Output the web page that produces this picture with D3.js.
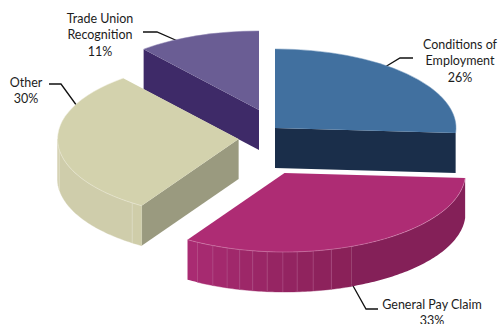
<!DOCTYPE html>
<html>
<head>
<meta charset="utf-8">
<style>
  html, body { margin: 0; padding: 0; background: #fff; }
  svg { display: block; }
  text { font-family: Lato, sans-serif; font-size: 12.5px; fill: #1c1c1c; text-anchor: middle; }
</style>
<script src="https://cdn.jsdelivr.net/npm/d3@7"></script>
</head>
<body>
<script>
// Dispute categories and their share of the total, in percent
const categories = ["Conditions of Employment", "General Pay Claim", "Other", "Trade Union Recognition"];
const shares = [26, 33, 30, 11];

// Wall facet boundaries (degrees clockwise from twelve o'clock)
const payFacets = [158.3, 165, 170.9, 176, 180.5, 185.5, 190.1, 194.3, 198.5, 203.3, 208.8];
const otherFacets = [212.4, 216, 262, 265, 270];

const width = 499, height = 324;
const rx = 181, ry = 79, depth = 40;
const rad = Math.PI / 180;

// Exploded centre of each slice
const centres = [[275, 128], [284.5, 173], [238.6, 139], [259, 110]];
const topColours = ["#41709f", "#ae2c74", "#d3d2ad", "#6a5d94"];
const cutColours = ["#1a2e4a", null, "#9a9a7f", "#3e2a68"];
const rimColours = ["#6f94ba", "#d98cb6", "#eeeddc", "#8b81b0"];

const svg = d3.select("body").append("svg").attr("width", width).attr("height", height);

const slices = d3.pie().sort(null).value(d => d)(shares);
const arcPath = d3.arc().innerRadius(0).outerRadius(rx);
const line = d3.line();

const rimPoint = (c, a, dy = 0) => [c[0] + rx * Math.sin(a), c[1] - ry * Math.cos(a) + dy];

// Sampled points along the rim between two angles
const rimPoints = (c, a0, a1, dy = 0) => {
  const n = Math.max(2, Math.ceil(Math.abs(a1 - a0) / (1 * rad)));
  return d3.range(n + 1).map(i => rimPoint(c, a0 + (a1 - a0) * i / n, dy));
};

const wallPath = (c, a0, a1) =>
  line([...rimPoints(c, a0, a1), ...rimPoints(c, a1, a0, depth)]) + "Z";

// Leader lines sit beneath the slices
const leaders = [
  [[413, 58], [400, 58], [385, 67]],
  [[352, 284], [366, 309], [378, 309]],
  [[49, 84], [61, 84], [77, 106]],
  [[143, 32], [157, 32], [180, 42]]
];
svg.append("g").selectAll("path").data(leaders).join("path")
  .attr("d", d => line(d)).attr("fill", "none").attr("stroke", "#111").attr("stroke-width", 1.3);

// Radial cut face running from the apex out to the rim at the given angle
function cutFace(g, c, a, colour) {
  const rim = rimPoint(c, a);
  g.append("path")
    .attr("d", line([c, rim, [rim[0], rim[1] + depth], [c[0], c[1] + depth]]) + "Z")
    .attr("fill", colour);
}

function drawFacets(g, c, edges, colourAt, lineColour, lineFrom) {
  edges.slice(0, -1).forEach((e, i) => {
    g.append("path").attr("d", wallPath(c, e * rad, edges[i + 1] * rad))
      .attr("fill", colourAt(i)).attr("stroke", colourAt(i)).attr("stroke-width", 0.4);
  });
  edges.forEach((e, i) => {
    if (i < lineFrom[0] || i > lineFrom[1]) return;
    const top = rimPoint(c, e * rad);
    g.append("line").attr("x1", top[0]).attr("y1", top[1])
      .attr("x2", top[0]).attr("y2", top[1] + depth)
      .attr("stroke", lineColour).attr("stroke-width", 0.5);
  });
}

// Back to front: recognition, other, conditions, pay
[3, 2, 0, 1].forEach(i => {
  const s = slices[i], c = centres[i];
  const g = svg.append("g");

  if (i === 3) cutFace(g, c, s.startAngle, cutColours[i]);
  if (i === 0) cutFace(g, c, s.endAngle, cutColours[i]);

  if (i === 1) {
    g.append("path").attr("d", wallPath(c, s.startAngle, payFacets[0] * rad)).attr("fill", "#842058");
    const tint = d3.scaleLinear().domain([0, payFacets.length - 2]).range(["#8a2159", "#a62a70"]);
    drawFacets(g, c, payFacets, tint, "#b25a8f", [1, 9]);
    g.append("path").attr("d", wallPath(c, payFacets[payFacets.length - 1] * rad, s.endAngle)).attr("fill", "#a92b72");
  }

  if (i === 2) {
    cutFace(g, c, s.startAngle, cutColours[i]);
    const tint = d3.scaleOrdinal().domain([0, 1, 2, 3]).range(["#cfcda9", "#cfcdab", "#d3d1af", "#d2d0ae"]);
    drawFacets(g, c, otherFacets, tint, "#e4e3cc", [1, 2]);
  }

  g.append("path")
    .attr("d", arcPath({ startAngle: s.startAngle, endAngle: s.endAngle }))
    .attr("transform", `translate(${c[0]},${c[1]}) scale(1,${ry / rx})`)
    .attr("fill", topColours[i]);

  // Pale highlight along the upper rim
  g.append("path")
    .attr("d", line(rimPoints(c, s.startAngle, s.endAngle)))
    .attr("fill", "none").attr("stroke", rimColours[i]).attr("stroke-width", 0.5);
});

// Labels
const labelLines = [
  ["Conditions of", "Employment", shares[0] + "%"],
  ["General Pay Claim", shares[1] + "%"],
  ["Other", shares[2] + "%"],
  ["Trade Union", "Recognition", shares[3] + "%"]
];
const labelAnchors = [[460, 49], [432, 309], [26, 87], [100, 23]];
const lineStep = 16.3;

svg.append("g").selectAll("text").data(categories).join("text")
  .attr("transform", (d, i) => `translate(${labelAnchors[i]})`)
  .each(function (d, i) {
    d3.select(this).selectAll("tspan").data(labelLines[i]).join("tspan")
      .attr("x", 0).attr("y", (t, j) => j * lineStep).text(t => t);
  });
</script>
</body>
</html>
